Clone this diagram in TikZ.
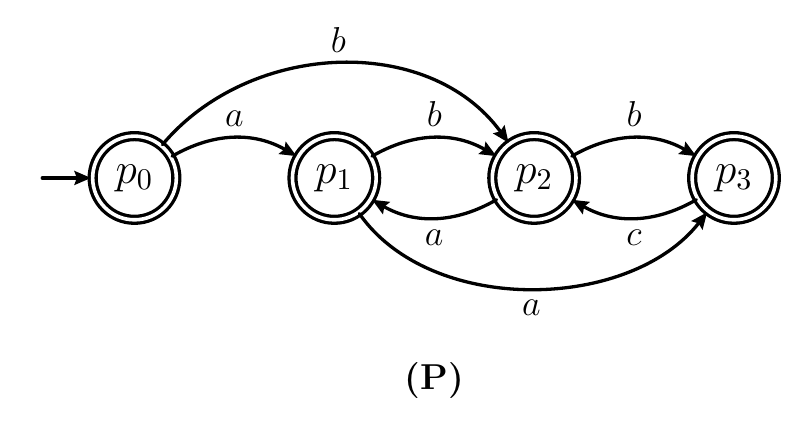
\documentclass[tikz,border=0pt]{standalone}
\usetikzlibrary{arrows.meta}
\begin{document}
\begin{tikzpicture}[>={Stealth[length=5.5pt, width=4.6pt, inset=0.8pt]}, line width=1.1pt, line join=round, line cap=round, font=\large,
 accst/.style={circle, draw, double, double distance=1.2pt, minimum size=0.98cm, inner sep=0pt, font=\Large}]
 \useasboundingbox (-1.575,-2.892) rectangle (7.793,2.084);
 \node[accst] (p0) at (0,0) {$p_0$};
 \node[accst] (p1) at (2.34,0) {$p_1$};
 \node[accst] (p2) at (4.68,0) {$p_2$};
 \node[accst] (p3) at (7.02,0) {$p_3$};
 \coordinate (start) at (-1.08,0);
 \draw[->] (start) -- (p0);
 \draw[->] (p0) to[bend left=30] node[above]{$a$} (p1);
 \draw[->] (p1) to[bend left=30] node[above]{$b$} (p2);
 \draw[->] (p2) to[bend left=30] node[above]{$b$} (p3);
 \draw[->] (p2) to[bend left=30] node[below]{$a$} (p1);
 \draw[->] (p3) to[bend left=30] node[below]{$c$} (p2);
 \draw[->] (p0) to[out=50, in=126] node[above]{$b$} (p2);
 \draw[->] (p1) to[out=-55, in=-128, looseness=0.92] node[below]{$a$} (p3);
 \node (cap) at (3.51,-2.37) {\textbf{(P)}};
\end{tikzpicture}
\end{document}
